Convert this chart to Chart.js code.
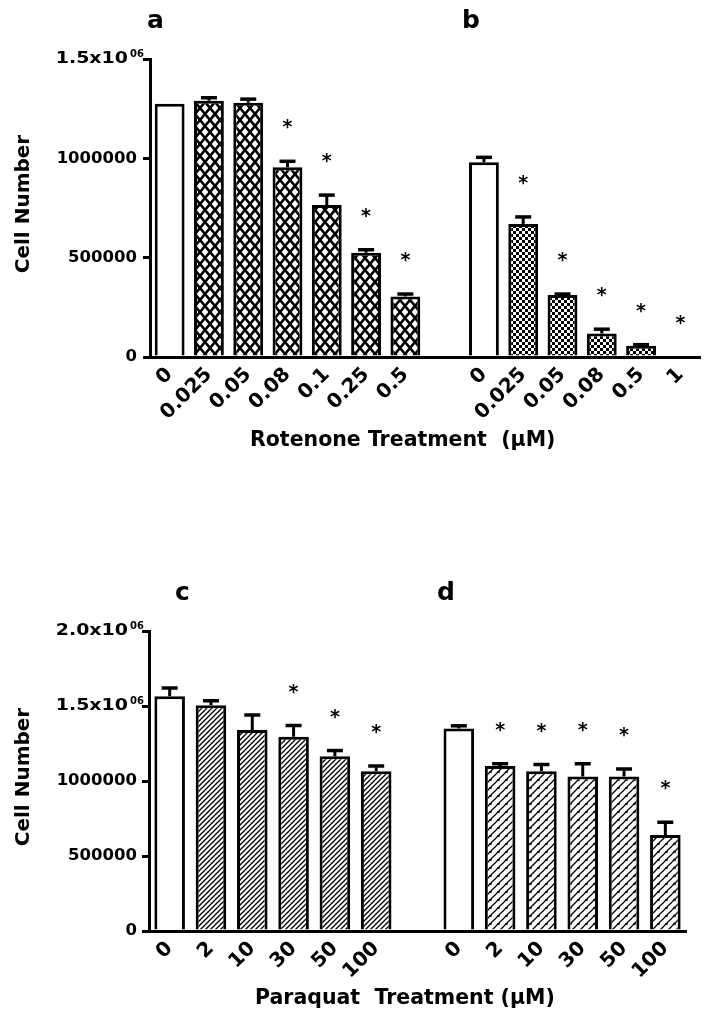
<!DOCTYPE html>
<html>
<head>
<meta charset="utf-8">
<script src="https://cdn.jsdelivr.net/npm/chart.js@4.4.1/dist/chart.umd.min.js"></script>
<style>
  body { margin: 0; background: #fff; width: 710px; height: 1020px; overflow: hidden; }
  .panel { position: absolute; left: 0; width: 710px; height: 510px; }
  #topPanel { top: 0; }
  #bottomPanel { top: 510px; }
</style>
</head>
<body>
<div class="panel" id="topPanel"><canvas id="chartTop" width="710" height="510"></canvas></div>
<div class="panel" id="bottomPanel"><canvas id="chartBottom" width="710" height="510"></canvas></div>
<script>
// Rotenone treatment (panels a and b)
const rotLabelsA = ['0', '0.025', '0.05', '0.08', '0.1', '0.25', '0.5'];
const rotLabelsB = ['0', '0.025', '0.05', '0.08', '0.5', '1'];
const rotA    = [1275000, 1290000, 1280000, 955000, 765000, 525000, 305000];
const rotAErr = [0, 15000, 18000, 30000, 50000, 15000, 12000];
const rotASig = [0, 0, 0, 1, 1, 1, 1];
const rotB    = [980000, 670000, 312000, 118000, 56000, 0];
const rotBErr = [25000, 35000, 5000, 22000, 6000, 0];
const rotBSig = [0, 1, 1, 1, 1, 1];

// Paraquat treatment (panels c and d)
const paraLabels = ['0', '2', '10', '30', '50', '100'];
const paraC    = [1565000, 1505000, 1340000, 1295000, 1165000, 1065000];
const paraCErr = [55000, 30000, 100000, 75000, 38000, 35000];
const paraCSig = [0, 0, 0, 1, 1, 1];
const paraD    = [1350000, 1100000, 1065000, 1030000, 1030000, 640000];
const paraDErr = [18000, 15000, 45000, 85000, 50000, 85000];
const paraDSig = [0, 1, 1, 1, 1, 1];

// y axis ticks
const rotYTicks = [0, 500000, 1000000, 1500000];
const rotYTickLabels = ['0', '500000', '1000000', '1.5x10^06'];
const paraYTicks = [0, 500000, 1000000, 1500000, 2000000];
const paraYTickLabels = ['0', '500000', '1000000', '1.5x10^06', '2.0x10^06'];

const FONT = '"DejaVu Sans", sans-serif';

// fill patterns
function makePattern(w, h, draw) {
    const c = document.createElement('canvas');
    c.width = w; c.height = h;
    const g = c.getContext('2d');
    g.fillStyle = '#fff';
    g.fillRect(0, 0, w, h);
    g.strokeStyle = '#000';
    g.fillStyle = '#000';
    draw(g, w, h);
    return g.createPattern(c, 'repeat');
}
function tiledLines(g, w, h, segs) {
    for (let dx = -w; dx <= w; dx += w) {
        for (let dy = -h; dy <= h; dy += h) {
            segs.forEach(s => {
                g.beginPath();
                g.moveTo(s[0] + dx, s[1] + dy);
                g.lineTo(s[2] + dx, s[3] + dy);
                g.stroke();
            });
        }
    }
}
const crossPat = makePattern(10, 12, (g, w, h) => {
    g.lineWidth = 2.6;
    tiledLines(g, w, h, [[0, 0, w, h], [w, 0, 0, h]]);
});
const checkPat = makePattern(6, 6, (g) => {
    g.fillRect(0, 0, 3, 3);
    g.fillRect(3, 3, 3, 3);
});
const hatchPat = makePattern(5, 5, (g, w, h) => {
    g.lineWidth = 1.3;
    tiledLines(g, w, h, [[0, h, w, 0]]);
});
const brickPat = makePattern(8, 8, (g, w, h) => {
    g.lineWidth = 1.3;
    tiledLines(g, w, h, [[0, h, w, 0], [1, 6, 4, 6]]);
});

function joinGroups(a, b, gap) {
    return a.concat([gap]).concat(b);
}

const decoPlugin = {
    id: 'deco',
    afterDatasetsDraw(chart) {
        const ctx = chart.ctx, y = chart.scales.y;
        const ds = chart.data.datasets[0], meta = chart.getDatasetMeta(0);
        ctx.save();
        ctx.strokeStyle = '#000';
        ctx.fillStyle = '#000';
        ds.data.forEach((v, i) => {
            if (v === null) return;
            const x = meta.data[i].x;
            const e = ds.errors[i] || 0;
            const yv = y.getPixelForValue(v);
            const ye = y.getPixelForValue(v + e);
            if (e > 0) {
                ctx.lineWidth = 3;
                ctx.beginPath(); ctx.moveTo(x, yv); ctx.lineTo(x, ye); ctx.stroke();
                ctx.lineWidth = 3.5;
                ctx.beginPath(); ctx.moveTo(x - 8, ye); ctx.lineTo(x + 8, ye); ctx.stroke();
            }
            if (ds.sig[i]) {
                ctx.font = 'bold 19px ' + FONT;
                ctx.textAlign = 'center';
                ctx.textBaseline = 'alphabetic';
                ctx.fillText('*', x, ye - 28);
            }
        });
        ctx.restore();
    },
    afterDraw(chart, args, opts) {
        const ctx = chart.ctx, y = chart.scales.y, area = chart.chartArea;
        ctx.save();
        ctx.fillStyle = '#000';
        // y tick labels
        opts.yTicks.forEach((v, i) => {
            const py = y.getPixelForValue(v);
            const parts = opts.yTickLabels[i].split('^');
            ctx.font = 'bold 16.5px ' + FONT;
            ctx.textBaseline = 'middle';
            ctx.textAlign = 'right';
            if (parts.length === 1) {
                ctx.fillText(parts[0], 137, py);
            } else {
                // the scientific label is drawn a little wider, as in the figure
                ctx.save();
                ctx.translate(128, py);
                ctx.scale(1.15, 1);
                ctx.fillText(parts[0], 0, 0);
                ctx.restore();
                ctx.font = 'bold 10px ' + FONT;
                ctx.textAlign = 'left';
                ctx.textBaseline = 'alphabetic';
                ctx.fillText(parts[1], 130, py - 2);
            }
        });
        // y title
        ctx.save();
        ctx.translate(24, (area.top + area.bottom) / 2 - 4);
        ctx.rotate(-Math.PI / 2);
        ctx.font = 'bold 20px ' + FONT;
        ctx.textAlign = 'center';
        ctx.textBaseline = 'middle';
        ctx.fillText(opts.yTitle, 0, 0);
        ctx.restore();
        // x title
        ctx.font = 'bold 20.5px ' + FONT;
        ctx.textAlign = 'left';
        ctx.textBaseline = 'middle';
        ctx.fillText(opts.xTitle, opts.xTitleX, opts.xTitleY);
        // panel letters
        ctx.font = 'bold 25px ' + FONT;
        ctx.textBaseline = 'alphabetic';
        opts.panels.forEach(p => ctx.fillText(p.t, p.x, p.y));
        ctx.restore();
    }
};

function buildChart(id, cfg) {
    const H = 510;
    return new Chart(document.getElementById(id), {
        type: 'bar',
        data: {
            labels: cfg.labels,
            datasets: [{
                data: cfg.values,
                errors: cfg.errors,
                sig: cfg.sig,
                backgroundColor: cfg.colors,
                borderColor: '#000',
                borderWidth: 3,
                categoryPercentage: 1,
                barPercentage: cfg.barPct
            }]
        },
        options: {
            responsive: false,
            animation: false,
            devicePixelRatio: 1,
            layout: { padding: { top: cfg.area.top, right: 710 - cfg.area.right, left: 0, bottom: 0 } },
            plugins: {
                legend: { display: false },
                tooltip: { enabled: false },
                deco: {
                    yTicks: cfg.yTicks,
                    yTickLabels: cfg.yTickLabels,
                    yTitle: 'Cell Number',
                    xTitle: cfg.xTitle,
                    xTitleX: cfg.xTitleX,
                    xTitleY: cfg.xTitleY,
                    panels: cfg.panels
                }
            },
            scales: {
                x: {
                    offset: true,
                    grid: { display: false, drawTicks: false },
                    border: { display: true, width: 3, color: '#000' },
                    ticks: {
                        autoSkip: false, minRotation: 45, maxRotation: 45, padding: 6,
                        color: '#000', font: { family: FONT, size: 20, weight: 'bold' }
                    },
                    afterFit: s => { s.height = H - cfg.area.bottom; }
                },
                y: {
                    min: 0,
                    max: cfg.yTicks[cfg.yTicks.length - 1],
                    afterBuildTicks: s => { s.ticks = cfg.yTicks.map(v => ({ value: v })); },
                    grid: { drawOnChartArea: false, drawTicks: true, tickLength: 7, lineWidth: 3, color: '#000' },
                    border: { display: true, width: 3, color: '#000' },
                    ticks: { display: false },
                    afterFit: s => { s.width = cfg.area.left; }
                }
            }
        },
        plugins: [decoPlugin]
    });
}

function groupColors(n, pat) {
    return ['#fff'].concat(Array(n - 1).fill(pat));
}

buildChart('chartTop', {
    labels: joinGroups(rotLabelsA, rotLabelsB, ''),
    values: joinGroups(rotA, rotB, null),
    errors: joinGroups(rotAErr, rotBErr, 0),
    sig: joinGroups(rotASig, rotBSig, 0),
    colors: joinGroups(groupColors(rotA.length, crossPat), groupColors(rotB.length, checkPat), '#fff'),
    barPct: 0.76,
    area: { left: 150, right: 700, top: 59, bottom: 357 },
    yTicks: rotYTicks,
    yTickLabels: rotYTickLabels,
    xTitle: 'Rotenone Treatment  (µM)',
    xTitleX: 250, xTitleY: 441,
    panels: [{ t: 'a', x: 147, y: 28 }, { t: 'b', x: 462, y: 28 }]
});

buildChart('chartBottom', {
    labels: joinGroups(paraLabels, paraLabels, ''),
    values: joinGroups(paraC, paraD, null),
    errors: joinGroups(paraCErr, paraDErr, 0),
    sig: joinGroups(paraCSig, paraDSig, 0),
    colors: joinGroups(groupColors(paraC.length, hatchPat), groupColors(paraD.length, brickPat), '#fff'),
    barPct: 0.74,
    area: { left: 149, right: 686, top: 121, bottom: 421 },
    yTicks: paraYTicks,
    yTickLabels: paraYTickLabels,
    xTitle: 'Paraquat  Treatment (µM)',
    xTitleX: 255, xTitleY: 489,
    panels: [{ t: 'c', x: 175, y: 90 }, { t: 'd', x: 437, y: 90 }]
});
</script>
</body>
</html>
